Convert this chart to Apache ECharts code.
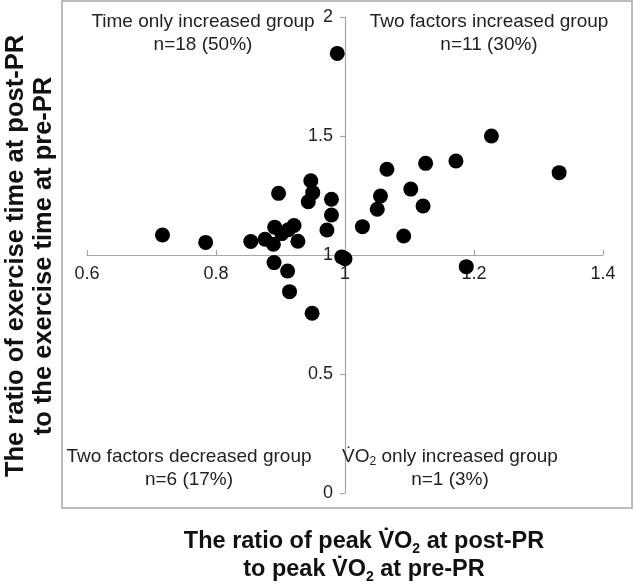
<!DOCTYPE html>
<html>
<head>
<meta charset="utf-8">
<script src="https://cdn.jsdelivr.net/npm/echarts@6/dist/echarts.min.js"></script>
<style>
html,body{margin:0;padding:0;background:#fff;}
#chart{width:634px;height:588px;}
</style>
</head>
<body>
<div id="chart"></div>
<script>
// Ratio of peak VO2 (post/pre) for each patient
var vo2Ratio = [
  0.988, 0.717, 0.784, 0.854, 0.876, 0.889, 0.891, 0.897, 0.902, 0.912,
  0.921, 0.927, 0.947, 0.950, 0.943, 0.979, 0.979, 0.972,
  1.027, 1.050, 1.055, 1.065, 1.091, 1.102, 1.121, 1.125, 1.172, 1.227, 1.332,
  0.995, 1.000, 0.890, 0.911, 0.914, 0.949,
  1.188
];
// Ratio of exercise time (post/pre) for each patient
var timeRatio = [
  1.847, 1.084, 1.053, 1.057, 1.066, 1.045, 1.117, 1.259, 1.090, 1.106,
  1.124, 1.058, 1.312, 1.262, 1.224, 1.234, 1.168, 1.105,
  1.119, 1.192, 1.248, 1.360, 1.080, 1.277, 1.206, 1.385, 1.395, 1.500, 1.346,
  0.992, 0.984, 0.968, 0.933, 0.846, 0.755,
  0.951
];
var xTickLabels = ['0.6', '0.8', '1', '1.2', '1.4'];
var yTickLabels = ['0', '0.5', '1', '1.5', '2'];
var quadrantTitles = [
  'Time only increased group',
  'Two factors increased group',
  'Two factors decreased group',
  ' only increased group'
];
var quadrantCounts = ['n=18 (50%)', 'n=11 (30%)', 'n=6 (17%)', 'n=1 (3%)'];

var points = vo2Ratio.map(function (v, i) { return [v, timeRatio[i]]; });

var FONT = '"Liberation Sans", Arial, sans-serif';
var chart = echarts.init(document.getElementById('chart'), null, {renderer: 'canvas'});

function qText(x, y, title, count, vo2) {
  var txt = vo2 ? '{v|V\u0307O}{sub|2}{n|' + title + '}\n{n|' + count + '}' : '{n|' + title + '}\n{n|' + count + '}';
  return {
    type: 'text', x: x, y: y, z: 10,
    style: {
      text: txt, align: 'center', verticalAlign: 'top',
      fill: '#222', font: '19px ' + FONT, lineHeight: 23,
      rich: {
        n: {fontSize: 19, fontFamily: FONT, fill: '#222', lineHeight: 23},
        v: {fontSize: 19, fontFamily: FONT, fill: '#222', lineHeight: 23},
        sub: {fontSize: 12, fontFamily: FONT, fill: '#222', verticalAlign: 'bottom', lineHeight: 18}
      }
    }
  };
}

var option = {
  animation: false,
  backgroundColor: '#fff',
  grid: {left: 87, right: 31, top: 17, bottom: 95, outerBoundsMode: 'none', containLabel: false},
  xAxis: {
    type: 'value', min: 0.6, max: 1.4, interval: 0.2,
    position: 'bottom', offset: -238,
    splitLine: {show: false},
    axisLine: {show: true, onZero: false, lineStyle: {color: '#a6a6a6', width: 1.2}},
    axisTick: {show: true, inside: true, length: 5, lineStyle: {color: '#a6a6a6', width: 1.2}},
    axisLabel: {
      color: '#222', fontSize: 18, fontFamily: FONT, margin: 10,
      formatter: function (v, i) { return xTickLabels[i]; }
    }
  },
  yAxis: {
    type: 'value', min: 0, max: 2, interval: 0.5,
    position: 'left', offset: -258,
    splitLine: {show: false},
    axisLine: {show: true, onZero: false, lineStyle: {color: '#a6a6a6', width: 1.2}},
    axisTick: {show: true, inside: false, length: 5, lineStyle: {color: '#a6a6a6', width: 1.2}},
    axisLabel: {
      color: '#222', fontSize: 18, fontFamily: FONT, margin: 12,
      formatter: function (v, i) { return yTickLabels[i]; }
    }
  },
  series: [{
    type: 'scatter',
    data: points,
    symbol: 'circle',
    symbolSize: 15,
    itemStyle: {color: '#000', opacity: 1},
    z: 5
  }],
  graphic: [
    {
      type: 'rect', z: 0, silent: true,
      shape: {x: 62, y: 1, width: 570, height: 507},
      style: {fill: 'none', stroke: '#a6a6a6', lineWidth: 1.5}
    },
    qText(203, 10, quadrantTitles[0], quadrantCounts[0]),
    qText(489, 10, quadrantTitles[1], quadrantCounts[1]),
    qText(189, 445, quadrantTitles[2], quadrantCounts[2]),
    qText(450, 445, quadrantTitles[3], quadrantCounts[3], true),
    {
      type: 'text', x: 30, y: 256, rotation: Math.PI / 2, z: 10,
      style: {
        text: 'The ratio of exercise time at post-PR\nto the exercise time at pre-PR',
        align: 'center', verticalAlign: 'middle',
        font: 'bold 25.5px ' + FONT, fill: '#111', lineHeight: 28
      }
    },
    {
      type: 'text', x: 364, y: 556, z: 10,
      style: {
        text: '{b|The ratio of peak V\u0307O}{s|2}{b| at post-PR}\n{b|to peak V\u0307O}{s|2}{b| at pre-PR}',
        align: 'center', verticalAlign: 'middle', fill: '#111',
        font: 'bold 23.5px ' + FONT,
        rich: {
          b: {fontSize: 23.5, fontWeight: 'bold', fontFamily: FONT, fill: '#111', lineHeight: 28},
          s: {fontSize: 14, fontWeight: 'bold', fontFamily: FONT, fill: '#111', verticalAlign: 'bottom', lineHeight: 22}
        }
      }
    }
  ]
};
chart.setOption(option);
</script>
</body>
</html>
